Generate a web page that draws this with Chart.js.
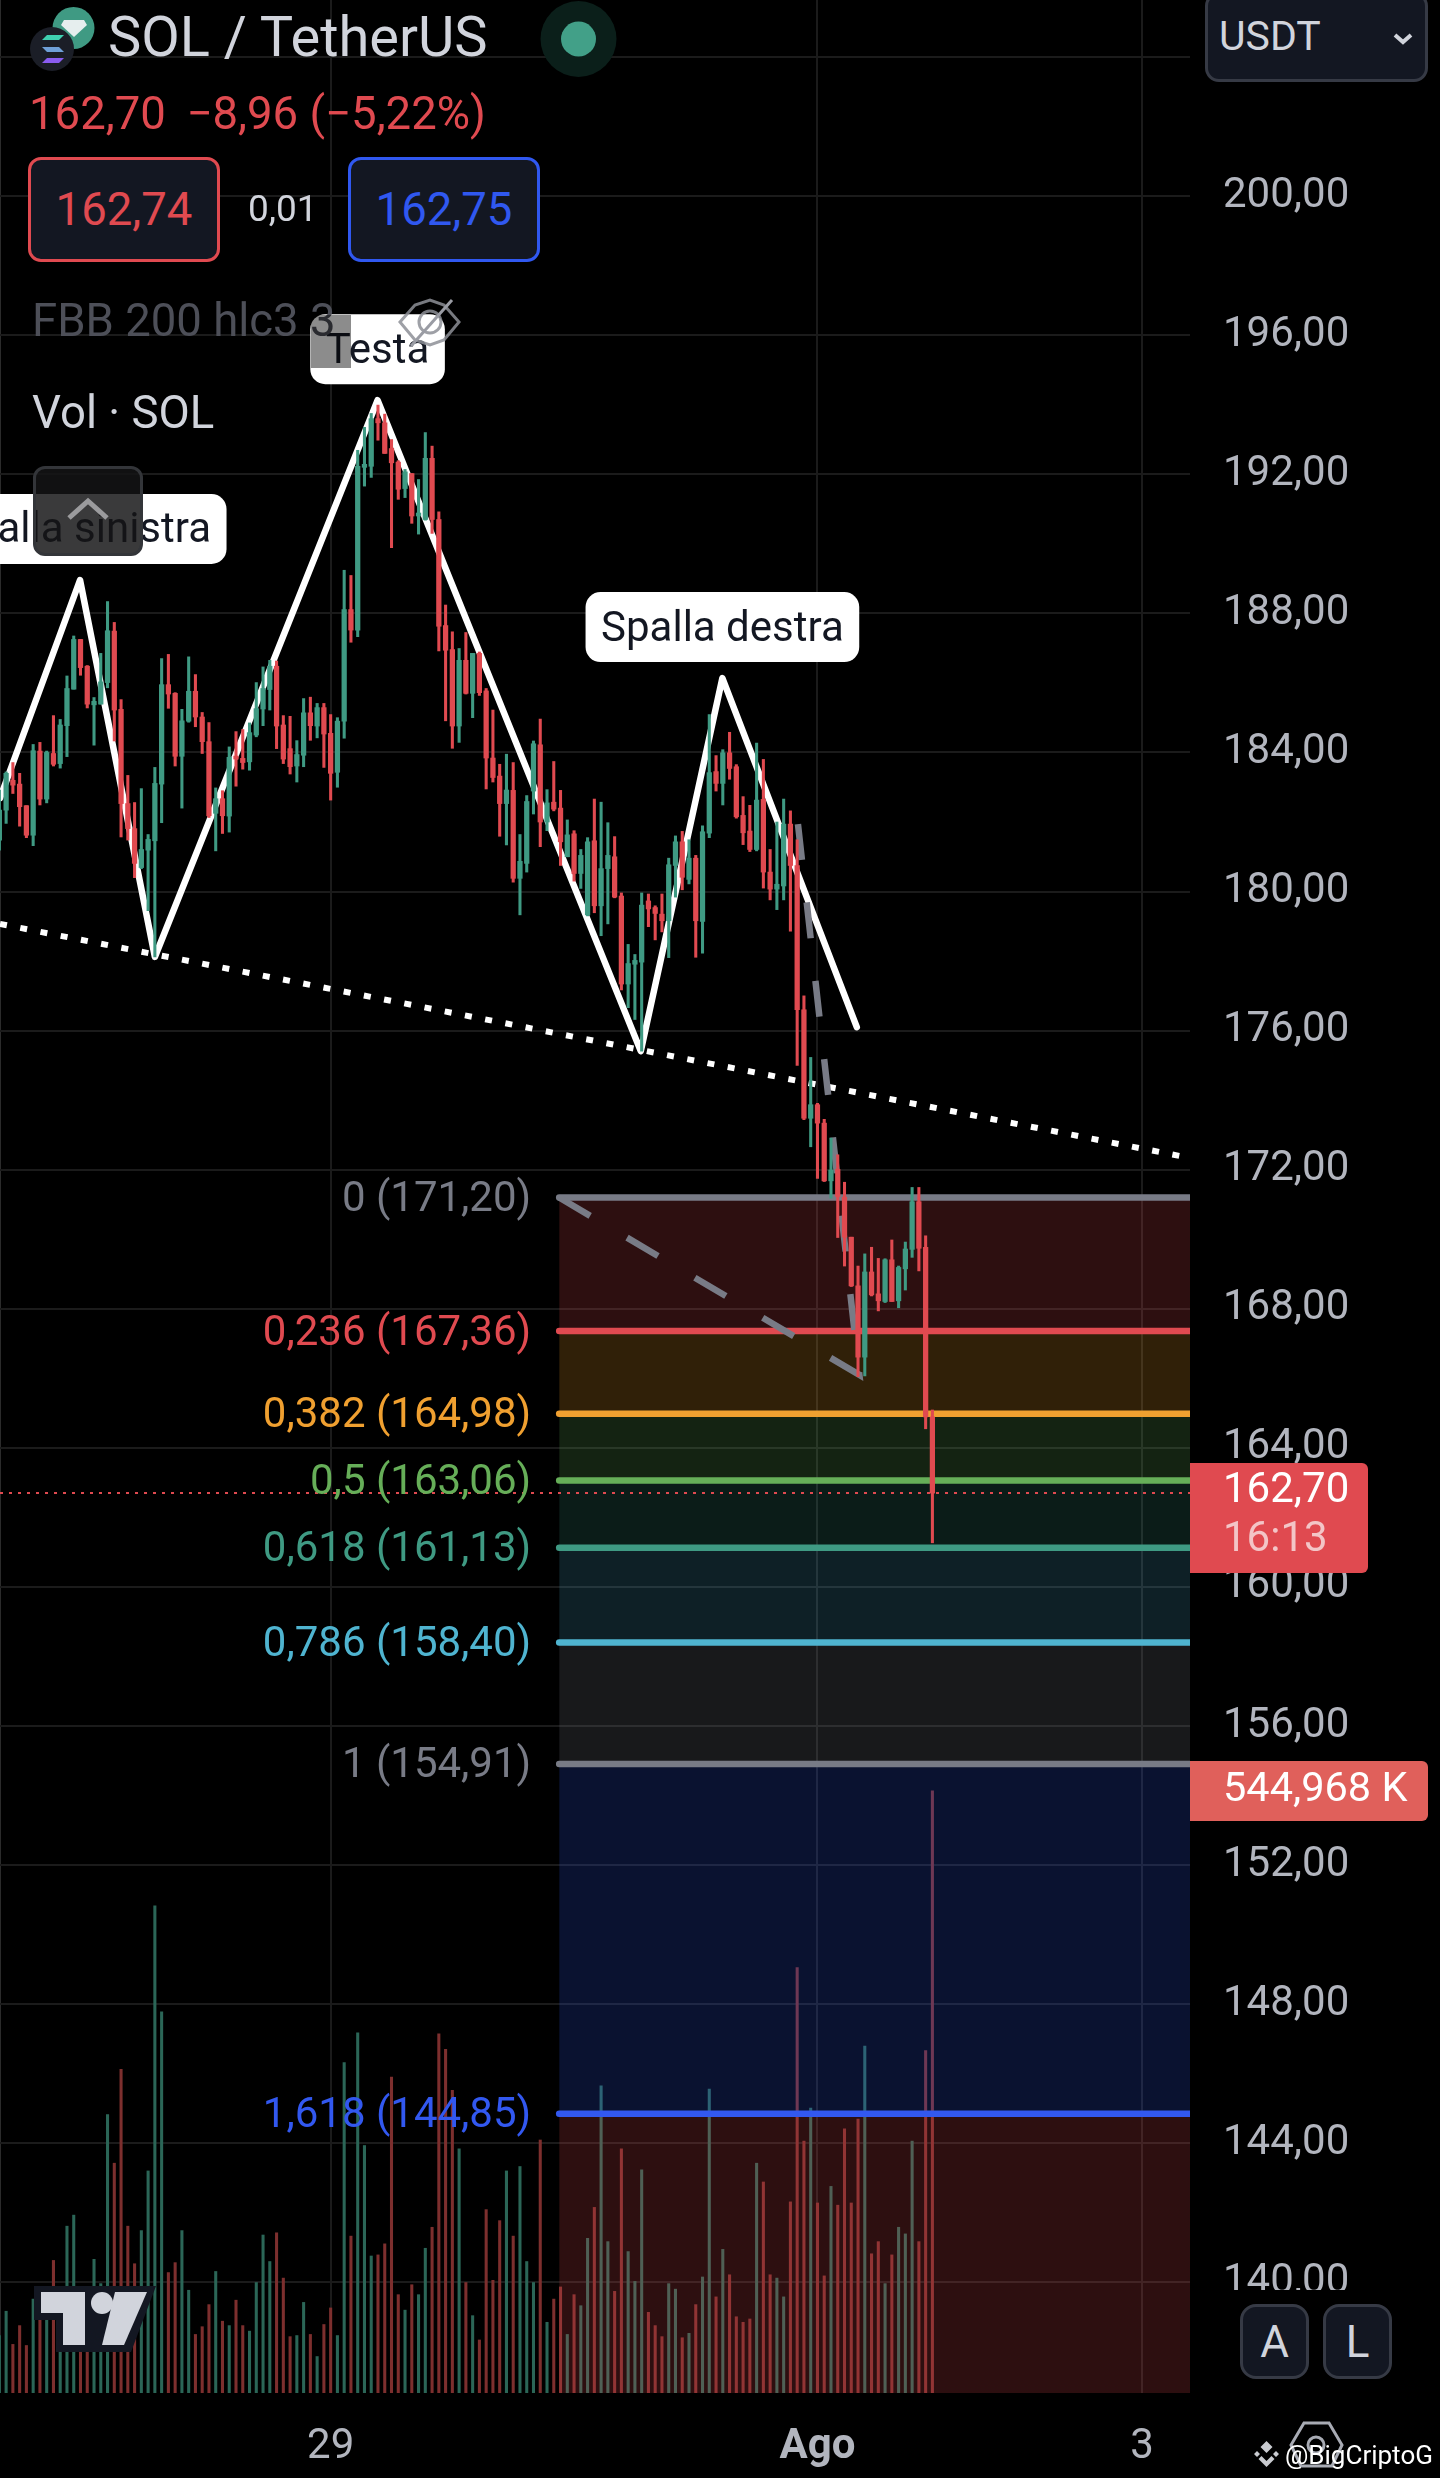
<!DOCTYPE html>
<html>
<head>
<meta charset="utf-8">
<title>SOL / TetherUS</title>
<script src="https://cdn.jsdelivr.net/npm/chart.js@4"></script>
<style>
  html, body { margin: 0; padding: 0; background: #000; }
  #wrap { position: relative; width: 1440px; height: 2478px; overflow: hidden; background: #000; }
  #chart { position: absolute; left: 0; top: 0; }
  .t { position: absolute; white-space: nowrap; line-height: 1; font-family: Roboto, sans-serif; transform: translateY(-50%); }
  .box { position: absolute; box-sizing: border-box; }
  .c { display: flex; align-items: center; justify-content: center; font-family: Roboto, sans-serif; line-height: 1; }
  svg { position: absolute; left: 0; top: 0; }
</style>
</head>
<body>
<div id="wrap">
  <canvas id="chart" width="1440" height="2478"></canvas>

  <!-- mask under the last price label, above the A / L buttons -->
  <div class="box" style="left:1190px;top:2290px;width:250px;height:188px;background:#000"></div>

  <div class="t" style="left:108px;top:37px;font-size:56px;color:#d1d4dc">SOL / TetherUS</div>
  <div class="t" style="left:29px;top:114px;font-size:45.5px;color:#e04a50">162,70</div>
  <div class="t" style="left:186.5px;top:114px;font-size:45.5px;color:#e04a50">−8,96 (−5,22%)</div>

  <div class="box c" style="left:28px;top:157px;width:192px;height:105px;border:3px solid #e04a50;border-radius:13px;background:#131722;color:#e04a50;font-size:45.5px">162,74</div>
  <div class="t" style="left:248px;top:208px;font-size:37px;color:#d1d4dc">0,01</div>
  <div class="box c" style="left:348px;top:157px;width:192px;height:105px;border:3px solid #3058f0;border-radius:13px;background:#131722;color:#3058f0;font-size:45.5px">162,75</div>

  <div class="t" style="left:32px;top:321px;font-size:45.5px;color:#4d4f58">FBB 200 hlc3 3</div>
  <div class="box" style="left:311px;top:315px;width:40px;height:53px;background:rgba(0,0,0,.45)"></div>
  <div class="t" style="left:32px;top:413px;font-size:45.5px;color:#d1d4dc">Vol · SOL</div>

  <div class="box" style="left:33px;top:466px;width:110px;height:90px;border:3px solid #333539;border-radius:12px;background:rgba(20,20,22,.84)"></div>

  <div class="box" style="left:1205px;top:-8px;width:223px;height:90px;border:3px solid #363a45;border-radius:14px;background:#131722"></div>
  <div class="t" style="left:1219px;top:36px;font-size:41px;color:#d1d4dc">USDT</div>

  <div class="box c" style="left:1240px;top:2304px;width:69px;height:75px;border:3px solid #363a45;border-radius:16px;background:#131722;color:#d1d4dc;font-size:44px">A</div>
  <div class="box c" style="left:1323px;top:2304px;width:69px;height:75px;border:3px solid #363a45;border-radius:16px;background:#131722;color:#d1d4dc;font-size:44px">L</div>

  <svg width="1440" height="2478" viewBox="0 0 1440 2478">
    <!-- symbol icons -->
    <circle cx="73.5" cy="28" r="21" fill="#3f9a83"/>
    <path d="M64 20h20l3 5-13 12-13-12z" fill="#e6eeee"/>
    <circle cx="52" cy="49" r="22" fill="#1b1e27"/>
    <path d="M42 40h17l5-5H47z" fill="#3fd0b0"/>
    <path d="M42 47h17l5 5H47z" fill="#6fa0d8"/>
    <path d="M42 63h17l5-5H47z" fill="#8a5cf0"/>
    <!-- status dot -->
    <circle cx="578.5" cy="39" r="38" fill="#0b1f1a"/>
    <circle cx="578.5" cy="39" r="17.5" fill="#42a088"/>
    <!-- hidden indicator eye -->
    <path d="M400 322l15-17 15-5 14 5 15 17-15 18-14 5-15-5z" fill="none" stroke="#8d8f97" stroke-width="3" opacity=".85"/>
    <circle cx="430" cy="322" r="11" fill="none" stroke="#8d8f97" stroke-width="3" opacity=".85"/>
    <path d="M411 346l41-46" stroke="#9a9ca4" stroke-width="3"/>
    <!-- collapse chevron -->
    <path d="M69 518l19-17 19 17" fill="none" stroke="#9b9b9d" stroke-width="5"/>
    <!-- currency chevron -->
    <path d="M1395 35l8 7 8-7" fill="none" stroke="#d1d4dc" stroke-width="4"/>
    <!-- logo -->
    <path d="M34 2286h122l-25 66H56v-32H34z" fill="#131722"/>
    <path d="M41 2292h44v53H63v-32H41z" fill="#d1d4dc"/>
    <circle cx="102" cy="2303" r="11" fill="#d1d4dc"/>
    <path d="M115 2292h32l-23 53h-22z" fill="#d1d4dc"/>
    <!-- bottom right -->
    <path d="M1304 2423h25l13 22-10 21h-31l-10-21z" fill="none" stroke="#a8abb4" stroke-width="3"/>
    <circle cx="1316" cy="2445" r="8" fill="none" stroke="#a8abb4" stroke-width="3"/>
    <path d="M1266.5 2441l6 6-6 6-6-6zM1266.5 2455l6-6M1257 2451l3 3-3 3-3-3zM1276 2451l3 3-3 3-3-3zM1266.5 2467l-8-8 3-3 5 5 5-5 3 3z" fill="#c9cbd0"/>
  </svg>
  <div class="t" style="left:1285px;top:2455px;font-size:26px;color:#fff">@BigCriptoG</div>
</div>

<script>
// hourly candles, index 0 = first visible bar
const opens = [181.48,182.34,183.20,183.09,182.47,181.62,184.04,182.66,183.97,183.68,184.77,185.82,187.25,186.48,185.37,185.39,186.01,187.49,185.24,182.53,
  181.81,180.69,181.19,181.46,183.09,185.95,185.70,183.89,184.90,185.76,185.02,184.31,182.25,182.67,182.17,183.88,183.83,183.73,184.50,185.25,
  185.81,186.48,184.79,184.11,183.61,183.92,185.14,184.76,185.29,184.55,183.43,184.90,188.11,187.52,192.20,192.23,193.60,193.48,192.74,192.35,
  191.59,192.02,190.80,190.70,192.46,190.70,187.65,186.96,184.76,186.65,185.70,186.85,185.77,183.84,183.32,182.53,182.91,180.38,180.81,182.89,
  184.22,182.00,182.57,182.40,181.00,181.66,180.52,179.33,181.46,179.59,180.66,181.00,179.87,177.34,177.91,177.97,179.73,179.54,179.35,179.16,
  180.75,181.43,180.35,180.96,179.14,181.68,183.45,183.11,183.99,183.59,182.19,181.74,181.21,182.65,180.56,180.07,180.16,181.94,180.75,176.60,
  173.48,173.87,173.34,171.68,172.01,171.21,170.06,168.66,166.61,169.06,168.43,168.21,169.41,168.23,169.15,169.71,171.08,169.77,164.89]
const highs = [182.92,183.44,183.71,183.40,182.47,184.23,184.29,184.04,185.06,184.95,186.20,187.35,187.25,186.50,185.58,186.85,188.34,187.74,185.52,183.34,
  182.56,182.96,181.64,183.57,186.70,186.82,185.72,185.24,186.75,186.24,185.15,184.86,182.98,182.90,184.16,184.60,184.66,184.85,186.01,186.46,
  186.65,186.63,185.06,185.04,184.34,185.55,185.59,185.41,185.41,185.09,185.00,189.24,189.09,192.69,193.35,193.75,193.99,193.73,193.00,192.39,
  192.14,192.02,191.85,193.20,192.81,190.92,188.24,187.47,186.99,187.45,186.85,186.89,185.84,185.22,183.66,183.95,183.71,181.64,182.76,184.33,
  184.96,182.93,183.74,182.91,182.06,181.75,181.21,181.55,182.66,182.57,181.98,181.58,179.96,178.48,178.19,179.96,179.93,179.59,179.93,180.96,
  181.60,181.73,181.49,181.04,181.89,185.09,183.91,184.08,184.58,183.65,182.73,182.48,184.27,183.80,181.21,182.00,182.66,182.32,181.49,177.00,
  175.23,173.91,173.45,172.91,172.43,171.64,170.06,169.23,169.58,169.77,169.45,169.44,169.98,169.23,169.92,171.49,171.49,170.10,165.09]
const lows = [181.19,181.96,182.82,181.88,181.55,181.32,182.49,182.55,183.61,183.55,183.88,185.82,186.22,185.28,184.21,185.39,185.86,184.33,181.57,181.48,
  180.40,180.66,179.45,178.12,181.98,185.27,183.61,182.40,184.87,184.74,183.97,182.13,181.17,181.67,181.71,183.03,183.52,183.49,184.45,184.77,
  185.22,184.11,183.68,183.38,183.15,183.59,184.35,184.42,183.57,182.63,183.00,184.41,187.17,187.33,191.66,191.91,192.98,192.60,189.89,191.28,
  191.33,190.59,190.28,190.68,190.30,186.92,184.91,184.12,184.29,185.68,185.00,185.64,182.95,183.15,181.59,181.34,180.27,179.33,180.56,182.23,
  181.29,181.75,182.32,180.75,181.00,180.30,180.09,179.30,179.39,178.73,179.07,179.82,177.17,176.66,176.32,175.41,178.99,178.61,178.84,178.10,
  179.84,180.05,180.22,178.11,178.23,181.55,182.89,182.49,183.23,182.11,181.35,181.15,181.17,180.10,179.76,179.48,179.76,178.86,175.00,173.44,
  172.66,171.75,171.66,171.18,170.05,169.23,168.64,166.05,166.07,168.37,167.94,168.18,168.21,168.03,168.54,169.48,169.09,164.55,161.27]
const closes = [182.34,183.40,183.06,182.44,181.62,184.05,182.66,184.00,183.66,184.79,185.84,187.25,186.44,185.39,185.47,186.03,187.50,185.22,182.53,181.81,
  180.81,181.21,181.50,183.11,185.95,185.68,183.89,184.91,185.76,185.02,184.31,182.18,182.67,182.18,183.86,183.81,183.71,184.57,185.26,185.84,
  186.48,184.76,183.81,183.59,183.94,185.14,184.77,185.29,184.53,183.40,184.90,188.11,187.52,192.23,192.27,193.60,193.48,192.60,192.33,191.57,
  192.07,190.80,190.87,192.46,190.70,187.63,186.94,184.76,186.65,185.70,186.85,185.72,183.84,183.28,182.53,182.92,180.38,180.87,182.59,184.25,
  182.00,182.55,182.37,181.43,181.63,180.52,181.04,181.43,179.59,180.66,181.04,179.84,177.34,177.93,178.02,179.61,179.50,179.37,179.16,180.77,
  181.43,180.41,180.96,179.16,181.72,183.42,183.11,183.99,183.54,182.15,181.69,181.21,182.63,180.56,180.07,180.21,181.94,180.75,176.60,173.48,
  173.87,173.34,171.68,171.99,171.23,170.06,168.66,166.61,169.06,168.40,168.23,169.41,168.21,169.19,169.72,171.08,169.74,164.89,162.70]
// volume in thousands
const volumes = [52,74,44,61,43,85,66,76,120,40,151,161,50,53,121,99,252,208,293,151,
  117,147,201,441,345,109,118,147,93,53,60,80,110,65,61,84,61,56,100,143,
  119,145,104,51,52,82,53,33,62,77,52,299,142,326,224,124,125,135,286,89,
  75,98,89,131,150,325,311,274,221,100,70,48,166,102,156,201,142,205,119,100,
  229,64,85,96,53,89,79,140,168,278,137,92,221,128,101,202,73,61,51,99,
  94,50,54,80,105,275,87,130,107,69,64,67,208,191,107,104,87,173,385,228,
  258,172,106,187,170,239,172,248,314,126,137,99,125,150,144,228,137,310,545]

const priceTicks = [204,200,196,192,188,184,180,176,172,168,164,160,156,152,148,144,140]
const timeTicks = [49,121,169]
const timeLabels = ["29","Ago","3"]

// fibonacci retracement
const fibRatios = ["0","0,236","0,382","0,5","0,618","0,786","1","1,618"]
const fibPrices = [171.20,167.36,164.98,163.06,161.13,158.40,154.91,144.85]
const fibColors = ["#787b86","#e04a50","#f0a030","#66ae58","#3f9a83","#4fb4d0","#787b86","#3258f0"]
const fibFills = ["rgba(224,74,80,.2)","rgba(240,160,40,.2)","rgba(102,174,88,.2)","rgba(63,154,131,.18)","rgba(79,180,208,.18)","rgba(120,123,134,.2)","rgba(50,88,240,.2)","rgba(224,74,80,.2)"]
const fibStart = 82.8

// head and shoulders
const patternX = [0.1,11.93,23,55.94,94.87,106.94,126.82]
const patternY = [182.69,188.96,178.12,194.13,175.41,186.14,176.10]
const necklineX = [0.1,175.5]
const necklineY = [179.07,172.36]
const trendX = [82.8,127.2,117.85]
const trendY = [171.20,166.10,182.40]
const patternNotes = [["Spalla sinistra",1],["Testa",3],["Spalla destra",5]]

const lastPrice = 162.70
const xMin = 0.095, xMax = 176.1
const yMin = 136.82, yMax = 205.64
const volMax = 2166

const RED = "#e04a50", GREEN = "#3f9a83"
const isUp = i => closes[i] >= opens[i]
const idx = opens.map((_, i) => i)
const fmt = v => v.toFixed(2).replace(".", ",")

function plainLine(xs, ys, color, width, order, extra) {
  return Object.assign({
    type: "line",
    data: xs.map((x, i) => ({x: x, y: ys[i]})),
    borderColor: color,
    borderWidth: width,
    pointRadius: 0,
    tension: 0,
    fill: false,
    order: order,
  }, extra)
}

const fibDatasets = fibPrices.map((p, i) => plainLine([fibStart, xMax], [p, p], fibColors[i], 6.5, 90 - i, {
  borderCapStyle: "round",
  clip: 0,
  backgroundColor: fibFills[i],
  fill: {value: i < fibPrices.length - 1 ? fibPrices[i + 1] : yMin},
}))

// texts that hang on chart values
const chartTexts = {
  id: "chartTexts",
  afterDraw(chart) {
    const ctx = chart.ctx, x = chart.scales.x, y = chart.scales.y
    ctx.save()
    ctx.textBaseline = "middle"

    ctx.font = "42px Roboto"
    ctx.textAlign = "right"
    fibPrices.forEach((p, i) => {
      ctx.fillStyle = fibColors[i]
      ctx.fillText(fibRatios[i] + " (" + fmt(p) + ")", x.getPixelForValue(fibStart) - 28, y.getPixelForValue(p) + 3)
    })

    ctx.textAlign = "center"
    patternNotes.forEach(([text, k]) => {
      const px = x.getPixelForValue(patternX[k]), py = y.getPixelForValue(patternY[k]) - 51
      const w = ctx.measureText(text).width + 31
      ctx.fillStyle = "#fff"
      ctx.beginPath()
      ctx.roundRect(px - w / 2, py - 35, w, 70, 15)
      ctx.fill()
      ctx.fillStyle = "#131722"
      ctx.fillText(text, px, py + 3)
    })

    // price and volume tags on the axis
    const right = chart.chartArea.right
    const py = y.getPixelForValue(lastPrice)
    ctx.textAlign = "left"
    ctx.fillStyle = RED
    ctx.beginPath()
    ctx.roundRect(right, py - 30, 178, 110, [0, 6, 6, 0])
    ctx.fill()
    ctx.fillStyle = "#fff"
    ctx.fillText(fmt(lastPrice), right + 33, py - 2)
    ctx.fillStyle = "#f3c5c7"
    ctx.fillText("16:13", right + 33, py + 47)

    const vy = chart.scales.yVol.getPixelForValue(volumes[volumes.length - 1])
    ctx.fillStyle = "#e0605b"
    ctx.beginPath()
    ctx.roundRect(right, vy - 30, 238, 60, [0, 6, 6, 0])
    ctx.fill()
    ctx.fillStyle = "#fff"
    ctx.font = "41.5px Roboto"
    ctx.fillText("544,968 K", right + 33, vy)
    ctx.restore()
  },
}

new Chart("chart", {
  type: "bar",
  data: {
    datasets: [
      {
        label: "Vol",
        yAxisID: "yVol",
        data: idx.map(i => ({x: i, y: volumes[i]})),
        backgroundColor: c => isUp(c.dataIndex) ? "#2b6657" : "#7d2f2e",
        barThickness: 2.4,
        grouped: false,
        order: 100,
      },
      ...fibDatasets,
      plainLine(patternX, patternY, "#fff", 6.5, 70, {borderCapStyle: "round", borderJoinStyle: "round"}),
      plainLine(necklineX, necklineY, "#fff", 6, 69, {borderDash: [7, 13.6]}),
      plainLine(trendX, trendY, "#787b86", 6.5, 60, {borderDash: [36, 42.8]}),
      plainLine([xMin, xMax], [lastPrice, lastPrice], RED, 2, 55, {borderDash: [3, 6]}),
      {
        label: "wick",
        data: idx.map(i => ({x: i, y: [lows[i], highs[i]]})),
        backgroundColor: c => isUp(c.dataIndex) ? GREEN : RED,
        barThickness: 2.4,
        grouped: false,
        order: 20,
      },
      {
        label: "body",
        data: idx.map(i => ({x: i, y: [Math.min(opens[i], closes[i]), Math.max(opens[i], closes[i])]})),
        backgroundColor: c => isUp(c.dataIndex) ? GREEN : RED,
        barThickness: 4.6,
        minBarLength: 3,
        grouped: false,
        order: 10,
      },
    ],
  },
  options: {
    responsive: false,
    animation: false,
    devicePixelRatio: 1,
    layout: {padding: 0},
    plugins: {legend: {display: false}, tooltip: {enabled: false}},
    scales: {
      x: {
        type: "linear",
        min: xMin,
        max: xMax,
        offset: false,
        afterBuildTicks: s => { s.ticks = [xMin, ...timeTicks].map(v => ({value: v})) },
        afterFit: s => { s.height = 85; s.paddingLeft = 0; s.paddingRight = 0 },
        grid: {color: c => c.index === 0 ? "#2b2b2b" : "#1b1b1b", lineWidth: 2, offset: false, drawTicks: false},
        border: {display: false},
        ticks: {
          autoSkip: false,
          maxRotation: 0,
          padding: 29,
          color: "#b2b5be",
          font: c => ({family: "Roboto", size: 42, weight: c.index === 2 ? "bold" : "normal"}),
          callback: v => { const k = timeTicks.indexOf(v); return k < 0 ? "" : timeLabels[k] },
        },
      },
      y: {
        position: "right",
        min: yMin,
        max: yMax,
        afterBuildTicks: s => { s.ticks = priceTicks.map(v => ({value: v})) },
        afterFit: s => { s.width = 250; s.paddingTop = 0; s.paddingBottom = 0 },
        grid: {color: "#1b1b1b", lineWidth: 2, drawTicks: false},
        border: {display: false},
        ticks: {
          autoSkip: false,
          padding: 33,
          color: "#b2b5be",
          font: {family: "Roboto", size: 42},
          callback: v => v > yMax - 5 ? "" : fmt(v),
        },
      },
      yVol: {axis: "y", display: false, min: 0, max: volMax},
    },
  },
  plugins: [chartTexts],
})
</script>
</body>
</html>
